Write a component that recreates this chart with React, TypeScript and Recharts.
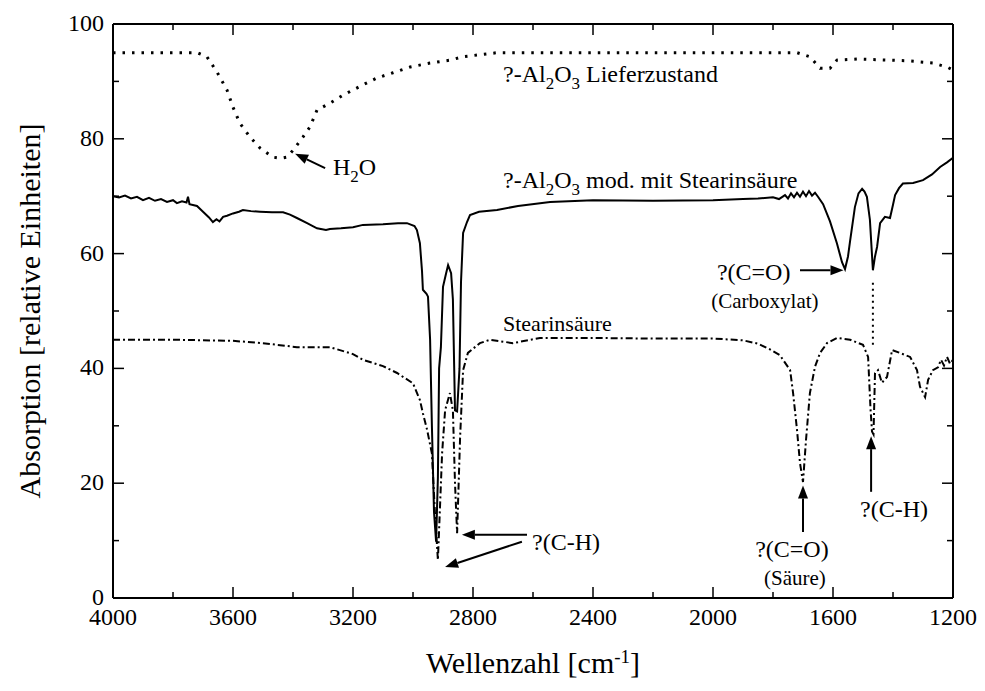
import React from 'react';
import { LineChart, Line, XAxis, YAxis, ReferenceLine, ReferenceDot } from 'recharts';

const FONT = 'Liberation Serif';

// ---- data (wavenumber cm-1, absorption rel. units) ----
const deliveredWn = [4000, 3850, 3720, 3687, 3653, 3620, 3600, 3577, 3543, 3510, 3467, 3440, 3420, 3400, 3367, 3343, 3320, 3277, 3233, 3167, 3120, 3067, 3010, 2943, 2877, 2833, 2720, 2400, 2000, 1720, 1677, 1643, 1610, 1587, 1520, 1353, 1267, 1220, 1200];
const deliveredAbs = [95, 95, 95, 94.3, 91.6, 88.5, 85.5, 82.7, 80.3, 78.4, 76.8, 76.6, 76.8, 78, 80.3, 82.1, 85, 86.2, 87.6, 89.4, 90.6, 91.5, 92.5, 93.2, 93.7, 94.3, 95, 95, 95, 95, 94.3, 92.3, 92.3, 93.7, 93.9, 93.6, 93.2, 92.5, 92];

const modifiedWn = [4000, 3980, 3960, 3940, 3920, 3900, 3880, 3860, 3840, 3820, 3800, 3787, 3770, 3755, 3750, 3745, 3720, 3700, 3680, 3667, 3655, 3645, 3633, 3620, 3600, 3580, 3567, 3540, 3510, 3470, 3433, 3410, 3387, 3353, 3320, 3290, 3277, 3240, 3200, 3167, 3100, 3050, 3020, 2995, 2987, 2977, 2970, 2967, 2955, 2950, 2943, 2937, 2930, 2923, 2917, 2913, 2907, 2900, 2890, 2883, 2873, 2867, 2860, 2853, 2845, 2840, 2833, 2820, 2810, 2780, 2720, 2650, 2543, 2400, 2200, 2000, 1900, 1850, 1800, 1780, 1760, 1750, 1740, 1730, 1720, 1710, 1700, 1690, 1680, 1670, 1660, 1650, 1633, 1610, 1587, 1570, 1560, 1550, 1543, 1527, 1515, 1503, 1495, 1487, 1477, 1467, 1460, 1453, 1443, 1427, 1410, 1400, 1393, 1380, 1367, 1333, 1300, 1270, 1243, 1220, 1200];
const modifiedAbs = [70.0, 69.8, 70.1, 69.6, 69.9, 69.3, 69.7, 69.2, 69.5, 69.0, 69.3, 68.8, 69.1, 68.9, 69.9, 68.6, 68.3, 67.3, 66.3, 65.5, 66.0, 65.6, 66.4, 66.6, 67.0, 67.3, 67.6, 67.4, 67.3, 67.2, 67.2, 66.8, 66.2, 65.3, 64.4, 64.1, 64.3, 64.4, 64.6, 65.0, 65.1, 65.3, 65.3, 64.8, 64.1, 61.8, 57, 53.7, 53.0, 52.5, 45, 30, 15, 9.8, 21, 40, 43.7, 54.2, 56.5, 58, 56.6, 52, 32.7, 32.5, 40, 55, 63.6, 65.5, 66.7, 67.3, 67.6, 68.3, 69.0, 69.3, 69.2, 69.3, 69.5, 69.6, 69.8, 69.5, 70.2, 69.6, 70.5, 69.8, 70.6, 69.9, 70.8, 70.0, 70.9, 70.1, 70.6, 69.9, 68.6, 65.6, 61.8, 58.5, 57.3, 59.5, 62.2, 68.1, 70.5, 71.3, 70.8, 69.9, 65.9, 57.1, 59.5, 61.2, 65.3, 66.4, 66.2, 68.5, 70.2, 71.4, 72.2, 72.3, 72.8, 73.8, 75.1, 75.9, 76.7];

const stearicWn = [4000, 3800, 3700, 3600, 3500, 3387, 3277, 3200, 3167, 3100, 3053, 3000, 2977, 2967, 2953, 2937, 2927, 2917, 2903, 2893, 2877, 2867, 2860, 2853, 2843, 2833, 2817, 2777, 2743, 2667, 2577, 2400, 2200, 2000, 1900, 1850, 1810, 1777, 1743, 1733, 1720, 1710, 1700, 1690, 1677, 1660, 1643, 1620, 1587, 1543, 1500, 1483, 1475, 1470, 1465, 1460, 1450, 1437, 1420, 1403, 1377, 1343, 1320, 1310, 1293, 1283, 1267, 1250, 1240, 1230, 1220, 1210, 1200];
const stearicAbs = [45, 45, 44.9, 44.8, 44.4, 43.7, 43.7, 42.5, 41.5, 40.4, 39.2, 37.4, 34.5, 32.2, 29.3, 25.2, 15, 6.6, 25.2, 32.7, 35.7, 32.7, 20, 11.3, 28, 39.7, 42.7, 44.4, 45, 44.4, 45.3, 45.3, 45.2, 45.2, 44.9, 44.3, 43.3, 42.3, 39.7, 35.7, 29.3, 23.5, 20.2, 27.5, 35.7, 40.3, 42.7, 44.4, 45.3, 45, 44.1, 42, 33, 29, 28.5, 39.2, 39.7, 37.5, 38.5, 43.2, 42.7, 42, 39.7, 36.8, 35, 38, 39.7, 40.2, 41.5, 40.5, 42, 40.8, 41.5];

const xTicks = [4000, 3800, 3600, 3400, 3200, 3000, 2800, 2600, 2400, 2200, 2000, 1800, 1600, 1400, 1200];
const xLabelTicks = [4000, 3600, 3200, 2800, 2400, 2000, 1600, 1200];
const yTicks = [0, 10, 20, 30, 40, 50, 60, 70, 80, 90, 100];
const yLabelTicks = [0, 20, 40, 60, 80, 100];

const zip = (xs: number[], ys: number[]) => xs.map((x, i) => ({ x, y: ys[i] }));
const deliveredData = zip(deliveredWn, deliveredAbs);
const modifiedData = zip(modifiedWn, modifiedAbs);
const stearicData = zip(stearicWn, stearicAbs);

// arrows in data coordinates: [fromX, fromY, toX, toY]
const arrows = [
  [3293, 74.9, 3393, 77.4],
  [1710, 57.1, 1565, 57.1],
  [2620, 11.0, 2837, 11.0],
  [2637, 9.8, 2893, 5.4],
  [1700, 11.5, 1700, 19.6],
  [1473, 18.5, 1473, 28.2],
];

const AXW = 2;

const BottomTick = (props: any) => {
  const { x, y, payload } = props;
  const v = payload.value;
  const major = xLabelTicks.includes(v);
  return (
    <g>
      <line x1={x} y1={y} x2={x} y2={y - (major ? 11 : 6)} stroke="#000" strokeWidth={1.5} />
      {major && (
        <text x={x} y={y + 27} textAnchor="middle" fontSize={24} fontFamily={FONT} fill="#000">{v}</text>
      )}
    </g>
  );
};
const TopTick = (props: any) => {
  const { x, y, payload } = props;
  const major = xLabelTicks.includes(payload.value);
  return <line x1={x} y1={y} x2={x} y2={y + (major ? 11 : 6)} stroke="#000" strokeWidth={1.5} />;
};
const LeftTick = (props: any) => {
  const { x, y, payload } = props;
  const v = payload.value;
  const major = yLabelTicks.includes(v);
  return (
    <g>
      <line x1={x} y1={y} x2={x + (major ? 11 : 6)} y2={y} stroke="#000" strokeWidth={1.5} />
      {major && (
        <text x={x - 9} y={y + 7} textAnchor="end" fontSize={24} fontFamily={FONT} fill="#000">{v}</text>
      )}
    </g>
  );
};
const RightTick = (props: any) => {
  const { x, y, payload } = props;
  const major = yLabelTicks.includes(payload.value);
  return <line x1={x} y1={y} x2={x - (major ? 11 : 6)} y2={y} stroke="#000" strokeWidth={1.5} />;
};

const Arrow = (props: any) => {
  const { x1, y1, x2, y2 } = props;
  if ([x1, y1, x2, y2].some((v) => typeof v !== 'number' || isNaN(v))) return null;
  const dx = x2 - x1, dy = y2 - y1;
  const len = Math.sqrt(dx * dx + dy * dy) || 1;
  const ux = dx / len, uy = dy / len;
  const hl = 13, hw = 5;
  const bx = x2 - ux * hl, by = y2 - uy * hl;
  const pts = `${x2},${y2} ${bx - uy * hw},${by + ux * hw} ${bx + uy * hw},${by - ux * hw}`;
  return (
    <g>
      <line x1={x1} y1={y1} x2={bx} y2={by} stroke="#000" strokeWidth={2} />
      <polygon points={pts} fill="#000" />
    </g>
  );
};

const DottedSeg = (props: any) => {
  const { x1, y1, x2, y2 } = props;
  return <line x1={x1} y1={y1} x2={x2} y2={y2} stroke="#000" strokeWidth={2} strokeDasharray="2 4" />;
};

const SUB = 17;
const textAt = (render: (cx: number, cy: number) => React.ReactNode) => (p: any) => {
  if (typeof p.cx !== 'number') return null;
  return <g>{render(p.cx, p.cy)}</g>;
};

const annotations: { x: number; y: number; render: (cx: number, cy: number) => React.ReactNode }[] = [
  {
    x: 2700, y: 89.9,
    render: (cx, cy) => (
      <text x={cx} y={cy} fontSize={24} fontFamily={FONT} fill="#000">
        <tspan>?-Al</tspan>
        <tspan fontSize={SUB} dy={7}>2</tspan>
        <tspan dy={-7}>O</tspan>
        <tspan fontSize={SUB} dy={7}>3</tspan>
        <tspan dy={-7}> Lieferzustand</tspan>
      </text>
    ),
  },
  {
    x: 2700, y: 71.4,
    render: (cx, cy) => (
      <text x={cx} y={cy} fontSize={24} fontFamily={FONT} fill="#000">
        <tspan>?-Al</tspan>
        <tspan fontSize={SUB} dy={7}>2</tspan>
        <tspan dy={-7}>O</tspan>
        <tspan fontSize={SUB} dy={7}>3</tspan>
        <tspan dy={-7}> mod. mit Stearinsäure</tspan>
      </text>
    ),
  },
  {
    x: 3267, y: 73.7,
    render: (cx, cy) => (
      <text x={cx} y={cy} fontSize={24} fontFamily={FONT} fill="#000">
        <tspan>H</tspan>
        <tspan fontSize={SUB} dy={7}>2</tspan>
        <tspan dy={-7}>O</tspan>
      </text>
    ),
  },
  {
    x: 2700, y: 46.5,
    render: (cx, cy) => (
      <text x={cx} y={cy} fontSize={22} fontFamily={FONT} fill="#000">Stearinsäure</text>
    ),
  },
  {
    x: 1987, y: 55.4,
    render: (cx, cy) => (
      <text x={cx} y={cy} fontSize={24} fontFamily={FONT} fill="#000">?(C=O)</text>
    ),
  },
  {
    x: 1827, y: 50.5,
    render: (cx, cy) => (
      <text x={cx} y={cy} textAnchor="middle" fontSize={21} fontFamily={FONT} fill="#000">(Carboxylat)</text>
    ),
  },
  {
    x: 2603, y: 8.4,
    render: (cx, cy) => (
      <text x={cx} y={cy} fontSize={24} fontFamily={FONT} fill="#000">?(C-H)</text>
    ),
  },
  {
    x: 1737, y: 7.1,
    render: (cx, cy) => (
      <text x={cx} y={cy} textAnchor="middle" fontSize={24} fontFamily={FONT} fill="#000">?(C=O)</text>
    ),
  },
  {
    x: 1727, y: 2.3,
    render: (cx, cy) => (
      <text x={cx} y={cy} textAnchor="middle" fontSize={21} fontFamily={FONT} fill="#000">(Säure)</text>
    ),
  },
  {
    x: 1510, y: 14.1,
    render: (cx, cy) => (
      <text x={cx} y={cy} fontSize={24} fontFamily={FONT} fill="#000">?(C-H)</text>
    ),
  },
];

const YTitle = (props: any) => {
  const vb = props.viewBox || {};
  const cx = (vb.x ?? 0) + 32;
  const cy = (vb.y ?? 0) + (vb.height ?? 0) / 2;
  return (
    <text x={cx} y={cy} transform={`rotate(-90 ${cx} ${cy})`} textAnchor="middle" fontSize={30} fontFamily={FONT} fill="#000">
      Absorption [relative Einheiten]
    </text>
  );
};

const XTitle = (props: any) => {
  const vb = props.viewBox || {};
  const cx = (vb.x ?? 0) + (vb.width ?? 0) / 2;
  const cy = (vb.y ?? 0) + 75;
  return (
    <text x={cx} y={cy} textAnchor="middle" fontSize={30} fontFamily={FONT} fill="#000">
      <tspan>Wellenzahl [cm</tspan>
      <tspan fontSize={19} dy={-10}>-1</tspan>
      <tspan dy={10}>]</tspan>
    </text>
  );
};

export default function App() {
  return (
    <LineChart width={969} height={675} margin={{ top: 0, right: 0, bottom: 0, left: 0 }}>
      <XAxis
        xAxisId="b" dataKey="x" type="number" domain={[1200, 4000]} reversed allowDataOverflow
        ticks={xTicks} interval={0} tick={<BottomTick />} tickLine={false} tickSize={0} tickMargin={0}
        axisLine={{ stroke: '#000', strokeWidth: AXW }} height={85} orientation="bottom"
        label={<XTitle />}
      />
      <XAxis
        xAxisId="t" dataKey="x" type="number" domain={[1200, 4000]} reversed allowDataOverflow
        ticks={xTicks} interval={0} tick={<TopTick />} tickLine={false} tickSize={0} tickMargin={0}
        axisLine={{ stroke: '#000', strokeWidth: AXW }} height={16} orientation="top"
      />
      <YAxis
        yAxisId="l" type="number" domain={[0, 100]} allowDataOverflow ticks={yTicks} interval={0}
        tick={<LeftTick />} tickLine={false} tickSize={0} tickMargin={0}
        axisLine={{ stroke: '#000', strokeWidth: AXW }} width={105} orientation="left"
        label={<YTitle />}
      />
      <YAxis
        yAxisId="r" type="number" domain={[0, 100]} allowDataOverflow ticks={yTicks} interval={0}
        tick={<RightTick />} tickLine={false} tickSize={0} tickMargin={0}
        axisLine={{ stroke: '#000', strokeWidth: AXW }} width={24} orientation="right"
      />
      <Line
        xAxisId="b" yAxisId="l" data={deliveredData} dataKey="y" type="linear" stroke="#000"
        strokeWidth={3} strokeDasharray="2.5 7" dot={false} isAnimationActive={false}
      />
      <Line
        xAxisId="b" yAxisId="l" data={modifiedData} dataKey="y" type="linear" stroke="#000"
        strokeWidth={2} dot={false} isAnimationActive={false}
      />
      <Line
        xAxisId="b" yAxisId="l" data={stearicData} dataKey="y" type="linear" stroke="#000"
        strokeWidth={2} strokeDasharray="7 3 2 3" dot={false} isAnimationActive={false}
      />
      <ReferenceLine
        xAxisId="b" yAxisId="l" segment={[{ x: 1467, y: 54.9 }, { x: 1467, y: 43.7 }]}
        shape={(p: any) => <DottedSeg {...p} />}
      />
      {arrows.map((a, i) => (
        <ReferenceLine
          key={`a${i}`} xAxisId="b" yAxisId="l"
          segment={[{ x: a[0], y: a[1] }, { x: a[2], y: a[3] }]}
          shape={(p: any) => <Arrow {...p} />}
        />
      ))}
      {annotations.map((an, i) => (
        <ReferenceDot
          key={`t${i}`} xAxisId="b" yAxisId="l" x={an.x} y={an.y} r={1}
          shape={textAt(an.render)}
        />
      ))}
    </LineChart>
  );
}
